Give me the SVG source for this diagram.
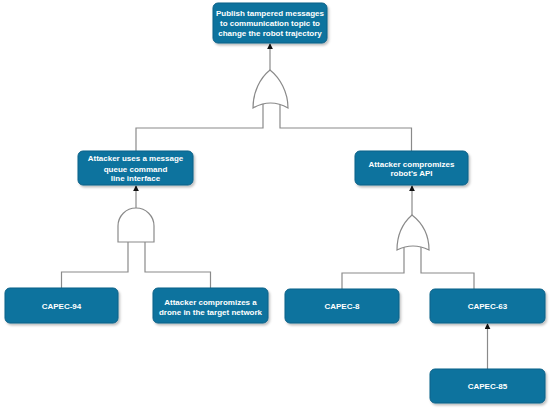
<svg xmlns="http://www.w3.org/2000/svg" width="550" height="410" viewBox="0 0 550 410">
<style>
.box{fill:#10739E;stroke:#0d6187;stroke-width:1;filter:url(#sh)}
.t{fill:#ffffff;font-family:"Liberation Sans",Arial,sans-serif;font-weight:bold;font-size:8px;text-anchor:middle}
.ln{fill:none;stroke:#8a8a8a;stroke-width:1.2}
.gate{fill:#ffffff;stroke:#8a8a8a;stroke-width:1.2}
</style>
<defs>
<filter id="sh" x="-10%" y="-20%" width="130%" height="150%">
<feDropShadow dx="1.5" dy="2" stdDeviation="1.2" flood-color="#000" flood-opacity="0.25"/>
</filter>
<marker id="ar" viewBox="0 0 8 8" refX="7" refY="4" markerWidth="5" markerHeight="5" orient="auto">
<path d="M0,0 L8,4 L0,8 Z" fill="#111"/>
</marker>
</defs>
<rect width="550" height="410" fill="#ffffff"/>
<g id="connectors">
<line class="ln" x1="270" y1="70" x2="270" y2="44" marker-end="url(#ar)"/>
<polyline class="ln" points="263,104 263,128 136,128 136,151"/>
<polyline class="ln" points="280,104 280,128 411.5,128 411.5,151"/>
<line class="ln" x1="136" y1="208" x2="136" y2="186" marker-end="url(#ar)"/>
<line class="ln" x1="412" y1="215" x2="412" y2="186" marker-end="url(#ar)"/>
<polyline class="ln" points="128,242 128,272 61.5,272 61.5,288"/>
<polyline class="ln" points="145,242 145,272 210.5,272 210.5,288"/>
<polyline class="ln" points="404,247 404,273 342,273 342,289"/>
<polyline class="ln" points="421,247 421,273 474,273 474,289"/>
<line class="ln" x1="487.5" y1="369" x2="487.5" y2="324" marker-end="url(#ar)"/>
</g>
<g id="gate-or-top"><path class="gate" d="M253,108 C253,92 260,78 270,70 C280,78 288,92 288,108 Q270.5,98 253,108 Z"/></g>
<g id="gate-and-left"><path class="gate" d="M118,242 L118,226 A18,18 0 0 1 154,226 L154,242 Z"/></g>
<g id="gate-or-right"><path class="gate" d="M397,250 C397,234 404,222 412,215 C421,222 429,234 429,250 Q413,242 397,250 Z"/></g>
<g id="n-top">
<rect class="box" x="213" y="3" width="114" height="40" rx="5"/>
<text class="t" x="270" y="16">Publish tampered messages</text>
<text class="t" x="270" y="26">to communication topic to</text>
<text class="t" x="270" y="36">change the robot trajectory</text>
</g>
<g id="n-mq">
<rect class="box" x="78" y="151" width="115" height="34" rx="5"/>
<text class="t" x="135.5" y="161">Attacker uses a message</text>
<text class="t" x="135.5" y="171.5">queue command</text>
<text class="t" x="135.5" y="181">line interface</text>
</g>
<g id="n-api">
<rect class="box" x="355" y="151" width="113" height="34" rx="5"/>
<text class="t" x="411.5" y="166.5">Attacker compromizes</text>
<text class="t" x="411.5" y="176">robot's API</text>
</g>
<g id="n-capec94">
<rect class="box" x="5" y="288" width="113" height="35" rx="5"/>
<text class="t" x="61.5" y="308.5">CAPEC-94</text>
</g>
<g id="n-drone">
<rect class="box" x="153" y="288" width="115" height="35" rx="5"/>
<text class="t" x="210.5" y="305">Attacker compromizes a</text>
<text class="t" x="210.5" y="314.5">drone in the target network</text>
</g>
<g id="n-capec8">
<rect class="box" x="285" y="289" width="114" height="34" rx="5"/>
<text class="t" x="342" y="308.5">CAPEC-8</text>
</g>
<g id="n-capec63">
<rect class="box" x="430" y="289" width="115" height="34" rx="5"/>
<text class="t" x="487.5" y="308.5">CAPEC-63</text>
</g>
<g id="n-capec85">
<rect class="box" x="430" y="369" width="115" height="34" rx="5"/>
<text class="t" x="487.5" y="389">CAPEC-85</text>
</g>
</svg>
